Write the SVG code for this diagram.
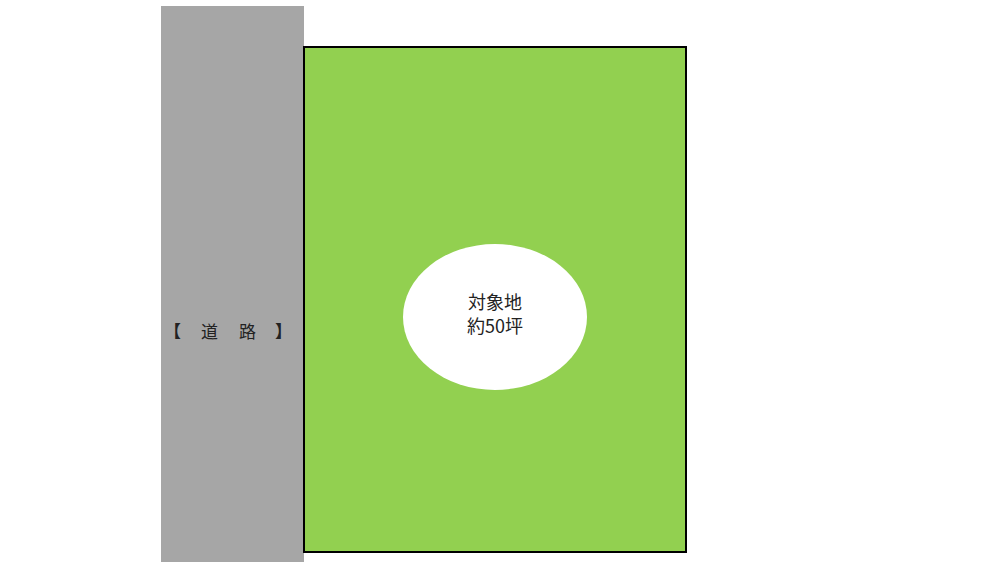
<svg xmlns="http://www.w3.org/2000/svg" width="1000" height="562" viewBox="0 0 1000 562">
<style>
.t{font-family:"Noto Sans CJK JP","Noto Sans CJK SC",sans-serif;fill:#222;font-size:17px;}
.c{font-size:18px;}
</style>
<rect width="1000" height="562" fill="#fff"/>
<g id="road">
<rect x="161" y="6" width="143" height="556" fill="#A6A6A6"/>
<text class="t" y="338"><tspan x="164" font-weight="bold">【</tspan><tspan x="201">道</tspan><tspan x="239">路</tspan><tspan x="275" font-weight="bold">】</tspan></text>
</g>
<g id="site">
<rect x="304" y="47" width="382" height="505" fill="#92D050" stroke="#000" stroke-width="2"/>
<ellipse cx="495" cy="317" rx="92" ry="73" fill="#fff"/>
<text class="t c" x="495" y="309" text-anchor="middle">対象地</text>
<text class="t c" x="495" y="333" text-anchor="middle">約50坪</text>
</g>
<g id="connectors"></g>
</svg>
